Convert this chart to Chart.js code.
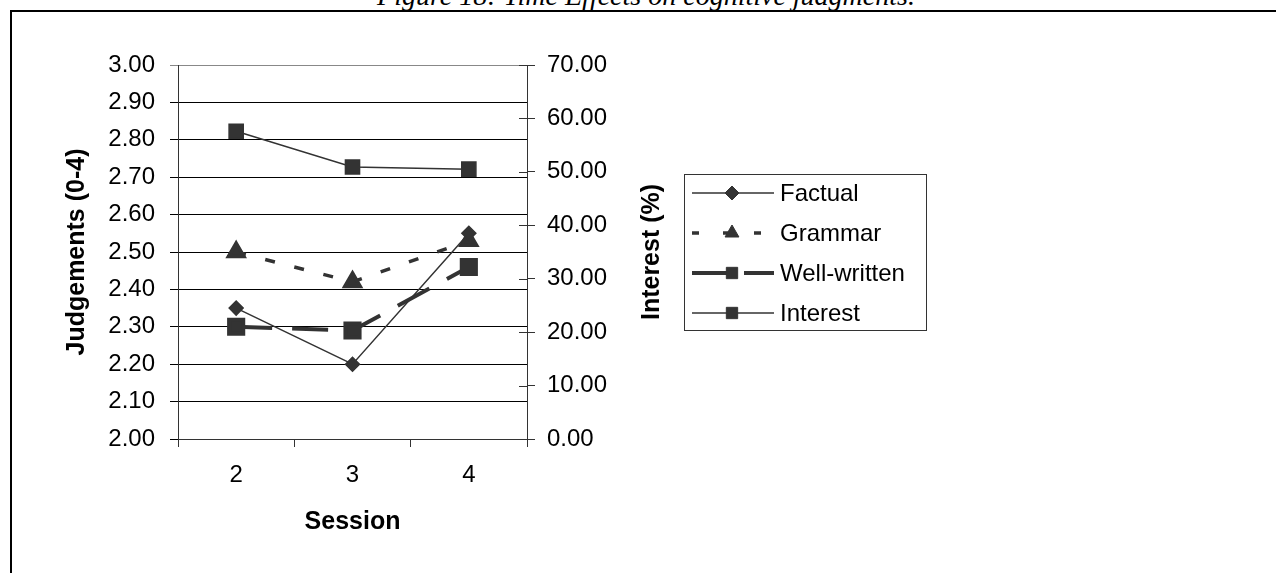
<!DOCTYPE html>
<html>
<head>
<meta charset="utf-8">
<script src="https://cdn.jsdelivr.net/npm/chart.js@4"></script>
<style>
  html, body { margin: 0; padding: 0; background: #fff; overflow: hidden; }
  #wrap { position: relative; width: 1276px; height: 573px; }
  #frame { position: absolute; left: 10px; top: 10px; width: 1300px; height: 600px;
           border-top: 2px solid #000; border-left: 2px solid #000; }
  #caption { position: absolute; left: 8px; width: 1276px; top: -20px; text-align: center;
             font: italic 28px "Liberation Serif", "Times New Roman", serif; color: #000; }
  canvas { position: absolute; left: 0; top: 0; }
</style>
</head>
<body>
<div id="wrap">
  <div id="caption">Figure 18: Time Effects on cognitive judgments.</div>
  <div id="frame"></div>
  <canvas id="myChart" width="1276" height="573"></canvas>
</div>
<script>
const sessions = ['2', '3', '4'];
const factual = [2.35, 2.20, 2.55];
const grammar = [2.50, 2.42, 2.53];
const wellWritten = [2.30, 2.29, 2.46];
const interest = [57.6, 50.9, 50.5];

const ink = '#333333';

Chart.defaults.font.family = '"Liberation Sans", Arial, sans-serif';
Chart.defaults.font.size = 24;
Chart.defaults.color = '#000';

// legend drawn as line + marker samples, like the original
const sampleLegend = {
    id: 'sampleLegend',
    afterDraw(chart) {
        const ctx = chart.ctx;
        const box = { x: 684, y: 174, w: 242, h: 156 };
        ctx.save();
        ctx.strokeStyle = ink;
        ctx.lineWidth = 1;
        ctx.strokeRect(box.x + 0.5, box.y + 0.5, box.w, box.h);
        chart.data.datasets.forEach((ds, i) => {
            const y = 193 + i * 40;
            ctx.save();
            ctx.strokeStyle = ds.borderColor;
            ctx.lineWidth = ds.borderWidth;
            ctx.setLineDash(ds.legendDash || []);
            ctx.beginPath();
            ctx.moveTo(692, y);
            ctx.lineTo(774, y);
            ctx.stroke();
            ctx.restore();
            ctx.fillStyle = ds.pointBackgroundColor;
            ctx.strokeStyle = ds.pointBorderColor;
            ctx.lineWidth = 1;
            Chart.helpers.drawPoint(ctx, { pointStyle: ds.pointStyle, radius: ds.legendRadius, borderWidth: 1 }, 732, y);
            ctx.fillStyle = '#000';
            ctx.font = '24px "Liberation Sans", Arial, sans-serif';
            ctx.textBaseline = 'middle';
            ctx.fillText(ds.label, 780, y + 1);
        });
        // inner tick marks on the right axis
        const r = chart.scales.y2;
        ctx.strokeStyle = ink;
        ctx.lineWidth = 1;
        r.ticks.forEach(t => {
            const py = Math.round(r.getPixelForValue(t.value)) + 0.5;
            ctx.beginPath();
            ctx.moveTo(r.left - 8, py);
            ctx.lineTo(r.left, py);
            ctx.stroke();
        });
        // right axis title reads bottom-to-top, like the left one
        ctx.save();
        ctx.translate(652, (chart.chartArea.top + chart.chartArea.bottom) / 2);
        ctx.rotate(-Math.PI / 2);
        ctx.font = 'bold 25px "Liberation Sans", Arial, sans-serif';
        ctx.fillStyle = '#000';
        ctx.textAlign = 'center';
        ctx.textBaseline = 'middle';
        ctx.fillText('Interest (%)', 0, 0);
        ctx.restore();
        ctx.restore();
    }
};

const ctx = document.getElementById('myChart').getContext('2d');
const chart = new Chart(ctx, {
    type: 'line',
    data: {
        labels: sessions,
        datasets: [{
            label: 'Factual',
            data: factual,
            yAxisID: 'y',
            borderColor: ink,
            borderWidth: 1.5,
            pointStyle: 'rectRot',
            pointRadius: 7,
            legendRadius: 7,
            pointBackgroundColor: ink,
            pointBorderColor: ink
        }, {
            label: 'Grammar',
            data: grammar,
            yAxisID: 'y',
            borderColor: ink,
            borderWidth: 3.5,
            borderDash: [10, 20],
            legendDash: [7, 24],
            pointStyle: 'triangle',
            pointRadius: 9,
            legendRadius: 8,
            pointBackgroundColor: ink,
            pointBorderColor: ink
        }, {
            label: 'Well-written',
            data: wellWritten,
            yAxisID: 'y',
            borderColor: ink,
            borderWidth: 4,
            borderDash: [36, 20],
            legendDash: [36, 16],
            pointStyle: 'rect',
            pointRadius: 10,
            legendRadius: 8,
            pointBackgroundColor: ink,
            pointBorderColor: ink
        }, {
            label: 'Interest',
            data: interest,
            yAxisID: 'y2',
            borderColor: ink,
            borderWidth: 1.5,
            pointStyle: 'rect',
            pointRadius: 10,
            legendRadius: 8,
            pointBackgroundColor: ink,
            pointBorderColor: ink
        }]
    },
    options: {
        responsive: false,
        animation: false,
        layout: { padding: { left: 62, top: 65, right: 609, bottom: 36 } },
        plugins: {
            legend: { display: false },
            tooltip: { enabled: false }
        },
        scales: {
            x: {
                offset: true,
                grid: { offset: true, drawOnChartArea: false, tickLength: 8, color: ink },
                border: { color: ink },
                ticks: { padding: 14 },
                title: { display: true, text: 'Session', font: { size: 25, weight: 'bold' }, padding: 0 },
                afterFit(scale) { scale.height = 98; }
            },
            y: {
                position: 'left',
                min: 2,
                max: 3,
                ticks: { stepSize: 0.1, padding: 15, callback: v => v.toFixed(2) },
                grid: {
                    tickLength: 8,
                    color: c => (c.tick && c.tick.value >= 3 ? '#888' : '#000')
                },
                border: { color: ink },
                title: { display: true, text: 'Judgements (0-4)', font: { size: 25, weight: 'bold' }, padding: 0 },
                afterFit(scale) { scale.width = 116; }
            },
            y2: {
                position: 'right',
                min: 0,
                max: 70,
                ticks: { stepSize: 10, padding: 12, callback: v => v.toFixed(2) },
                grid: { drawOnChartArea: false, tickLength: 8, color: ink },
                border: { color: ink },
                title: { display: false },
                afterFit(scale) { scale.width = 140; }
            }
        }
    },
    plugins: [sampleLegend]
});
</script>
</body>
</html>
